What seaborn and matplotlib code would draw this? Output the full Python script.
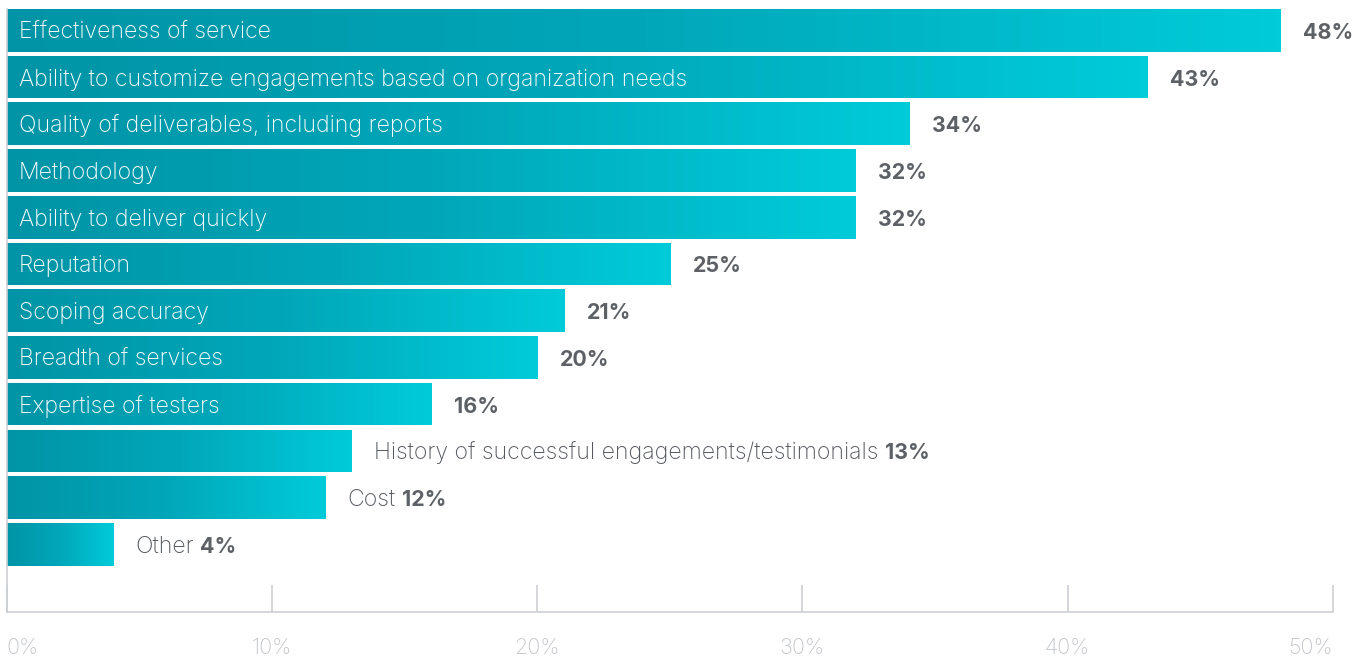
import numpy as np
import pandas as pd
import matplotlib
matplotlib.use("Agg")
import matplotlib.pyplot as plt
from matplotlib.colors import LinearSegmentedColormap
import seaborn as sns

categories = [
    "Effectiveness of service",
    "Ability to customize engagements based on organization needs",
    "Quality of deliverables, including reports",
    "Methodology",
    "Ability to deliver quickly",
    "Reputation",
    "Scoping accuracy",
    "Breadth of services",
    "Expertise of testers",
    "History of successful engagements/testimonials",
    "Cost",
    "Other",
]
values = [48, 43, 34, 32, 32, 25, 21, 20, 16, 13, 12, 4]
# rows whose category name sits outside the bar, next to the value
outside_label = [False] * 9 + [True] * 3
x_ticks = [0, 10, 20, 30, 40, 50]
x_tick_labels = ["0%", "10%", "20%", "30%", "40%", "50%"]

df = pd.DataFrame({"category": categories, "value": values})

sns.set_theme(style="white")
plt.rcParams["font.family"] = ["Inter", "DejaVu Sans"]

W, H, DPI = 1367, 659, 100
fig = plt.figure(figsize=(W / DPI, H / DPI), dpi=DPI)
ax_left, ax_right = 6.5 / W, 1333 / W
ax_top, ax_bottom = 9 / H, 612 / H
ax = fig.add_axes([ax_left, 1 - ax_bottom, ax_right - ax_left, ax_bottom - ax_top])

bar_width = 0.91
sns.barplot(data=df, x="value", y="category", orient="h", width=bar_width,
            color="#00a5b5", ax=ax, saturation=1)

# horizontal teal-to-cyan gradient inside each bar
cmap = LinearSegmentedColormap.from_list("teal", ["#0094a6", "#00a7b9", "#00cbd9"])
grad = np.linspace(0, 1, 256).reshape(1, -1)
for patch in ax.patches:
    x0, y0 = patch.get_x(), patch.get_y()
    w, h = patch.get_width(), patch.get_height()
    im = ax.imshow(grad, cmap=cmap, aspect="auto",
                   extent=[x0, x0 + w, y0 + h, y0], zorder=2,
                   interpolation="bicubic")
    im.set_clip_path(patch)
    patch.set_facecolor("none")
    patch.set_edgecolor("none")
ax.set_xlim(0, 50)
ax.set_ylim(12.445, -0.455)

label_color = "#55595e"
value_color = "#5d6166"
fs_cat = 16.6
fs_val = 15.4
base = -8.5  # baseline offset below the bar centre, in pixels
for i, (cat, val, outside) in enumerate(zip(categories, values, outside_label)):
    if outside:
        t = ax.annotate(cat, xy=(val, i), xytext=(23, base), textcoords="offset pixels",
                        ha="left", va="baseline", fontsize=fs_cat, color=label_color,
                        fontweight="light", zorder=4)
        fig.canvas.draw()
        bb = t.get_window_extent()
        x_data = ax.transData.inverted().transform((bb.x1 + 6, 0))[0]
        ax.annotate(f"{val}%", xy=(x_data, i), xytext=(0, base), textcoords="offset pixels",
                    ha="left", va="baseline", fontsize=fs_val, color=value_color,
                    fontweight="bold", zorder=4)
    else:
        ax.annotate(cat, xy=(0, i), xytext=(12.5, base), textcoords="offset pixels",
                    ha="left", va="baseline", fontsize=fs_cat, color="white",
                    fontweight="light", zorder=4)
        ax.annotate(f"{val}%", xy=(val, i), xytext=(23, base), textcoords="offset pixels",
                    ha="left", va="baseline", fontsize=fs_val, color=value_color,
                    fontweight="bold", zorder=4)

spine_color = "#cdd0d3"
for side in ["top", "right"]:
    ax.spines[side].set_visible(False)
for side in ["left", "bottom"]:
    ax.spines[side].set_visible(True)
    ax.spines[side].set_color(spine_color)
    ax.spines[side].set_linewidth(1.2)

ax.set_xticks(x_ticks)
ax.set_xticklabels(x_tick_labels)
ax.tick_params(axis="x", direction="in", length=27 * 72 / DPI, width=1.2,
               color=spine_color, pad=19, labelsize=15.5, labelcolor="#c3c6ca",
               bottom=True)
tl = ax.get_xticklabels()
tl[0].set_ha("left")
tl[-1].set_ha("right")
for lab in tl:
    lab.set_fontweight("light")
ax.set_yticks([])
ax.set_xlabel("")
ax.set_ylabel("")
ax.grid(False)

fig.savefig("out.png", dpi=DPI)
